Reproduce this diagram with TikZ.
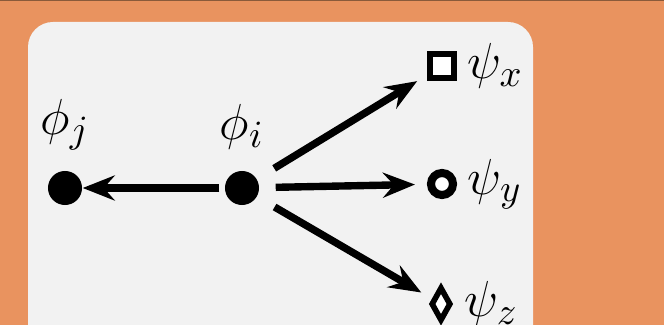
\documentclass[tikz,border=0pt]{standalone}
\usepackage{amsmath, amssymb}
\usepackage{xcolor}
\usetikzlibrary{arrows.meta, positioning, shapes.geometric}
\definecolor{bgorange}{HTML}{E9935F}
\definecolor{panelgray}{HTML}{F2F2F2}
\definecolor{edgebrown}{HTML}{8A5A3A}

\begin{document}
\begin{tikzpicture}[
    x=0.01cm, y=-0.01cm,
    dot/.style={circle, fill=black, minimum size=0.34cm, inner sep=0pt},
    lbl/.style={inner sep=0pt, font=\fontsize{15}{17}\selectfont},
    marker/.style={draw=black, fill=white, line width=1.6pt, inner sep=0pt},
    edge/.style={-{Stealth[length=0.32cm, width=0.25cm, inset=0.11cm]}, line width=2.1pt}
]
\useasboundingbox (0,0) rectangle (664,325);
\clip (0,0) rectangle (664,325);
% background and panel
\fill[bgorange] (0,0) rectangle (664,325);
\draw[edgebrown, line width=0.6pt] (0,0.3) -- (664,0.3);
\fill[panelgray, rounded corners=0.25cm] (28,22) rectangle (533,360);

% source and target nodes
\node[dot] (phij) at (65,188) {};
\node[dot] (phii) at (242,188) {};
\node[lbl, above=0.2cm of phij] (phijlbl) {$\phi_j$};
\node[lbl, above=0.2cm of phii] (phiilbl) {$\phi_i$};

% markers
\node[marker, rectangle, minimum size=0.235cm] (sqx) at (442,66) {};
\node[marker, circle, line width=2.3pt, minimum size=0.22cm] (circy) at (442,184) {};
\node[marker, diamond, minimum width=0.2cm, minimum height=0.34cm, inner sep=0pt] (diaz) at (441,304) {};
\node[lbl, right=0.1cm of sqx] (psix) {$\psi_x$};
\node[lbl, right=0.1cm of circy] (psiy) {$\psi_y$};
\node[lbl, right=0.1cm of diaz] (psiz) {$\psi_z$};

% edges
\draw[edge, shorten <=0.05cm] (phii) -- (phij);
\draw[edge, shorten <=0.2cm, shorten >=0.12cm] (phii) -- (sqx);
\draw[edge, shorten <=0.16cm, shorten >=0.12cm] (phii) -- (circy);
\draw[edge, shorten <=0.2cm, shorten >=0.12cm] (phii) -- (diaz);
\end{tikzpicture}
\end{document}
